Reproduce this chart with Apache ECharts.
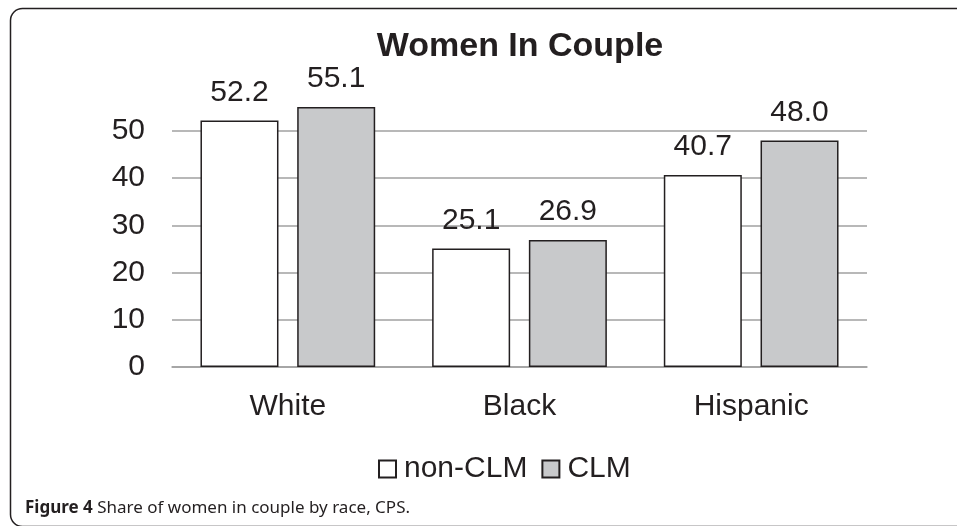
<!DOCTYPE html>
<html><head><meta charset="utf-8">
<script src="https://cdn.jsdelivr.net/npm/echarts@6/dist/echarts.min.js"></script>
<style>html,body{margin:0;padding:0;background:#fff}#c{width:957px;height:526px}</style>
</head><body><div id="c"></div>
<script>
const categories = ['White', 'Black', 'Hispanic'];
const nonCLM = [52.2, 25.1, 40.7];
const CLM = [55.1, 26.9, 48.0];
const seriesNames = ['non-CLM', 'CLM'];
const yTicks = [0, 10, 20, 30, 40, 50];
const titleText = 'Women In Couple';
const captionBold = 'Figure 4';
const captionRest = ' Share of women in couple by race, CPS.';

const FONT = '"Liberation Sans", Arial, sans-serif';
const INK = '#231f20';
const chart = echarts.init(document.getElementById('c'));
const labelCfg = {show: true, position: 'top', distance: 13, color: INK, fontSize: 30, fontFamily: FONT,
  formatter: p => p.value.toFixed(1)};
chart.setOption({
  animation: false,
  textStyle: {fontFamily: FONT},
  grid: {left: 172, right: 90, top: 131, bottom: 159},
  xAxis: {type: 'category', data: categories,
    axisLine: {lineStyle: {color: '#a0a0a0', width: 1.5}},
    axisTick: {show: false},
    axisLabel: {color: INK, fontSize: 30, fontFamily: FONT, margin: 25}},
  yAxis: {type: 'value', min: yTicks[0], max: yTicks[yTicks.length - 1], interval: 10,
    axisLine: {show: false}, axisTick: {show: false},
    axisLabel: {color: INK, fontSize: 30, fontFamily: FONT, margin: 27},
    splitLine: {lineStyle: {color: '#a0a0a0', width: 1.5}}},
  legend: {left: 373, top: 449, icon: 'rect', itemWidth: 17, itemHeight: 17, itemGap: 14,
    textStyle: {color: INK, fontSize: 30, fontFamily: FONT, padding: [0, 0, 0, 3]},
    data: seriesNames},
  series: [
    {name: seriesNames[0], type: 'bar', data: nonCLM, barWidth: 78, barGap: '24%', clip: false,
      itemStyle: {color: '#ffffff', borderColor: INK, borderWidth: 1.5}, label: labelCfg},
    {name: seriesNames[1], type: 'bar', data: CLM, barWidth: 78, clip: false,
      itemStyle: {color: '#c8c9cb', borderColor: INK, borderWidth: 1.5}, label: labelCfg}
  ],
  graphic: [
    {type: 'rect', shape: {x: 10.5, y: 8.5, width: 1000, height: 518, r: 12}, silent: true,
      style: {fill: null, stroke: INK, lineWidth: 1.5}},
    {type: 'text', x: 520, y: 47, style: {text: titleText, fontSize: 34, fontWeight: 'bold', fontFamily: FONT,
      fill: INK, align: 'center', verticalAlign: 'middle'}},
    {type: 'text', x: 25, y: 508, style: {
      text: '{b|' + captionBold + '}{r|' + captionRest + '}', verticalAlign: 'middle',
      rich: {b: {fontSize: 17, fontWeight: 'bold', fontFamily: '"Noto Sans", sans-serif', fill: INK, color: INK},
             r: {fontSize: 17, fontFamily: '"Noto Sans", sans-serif', fill: INK, color: INK}}}}
  ]
});
</script></body></html>
